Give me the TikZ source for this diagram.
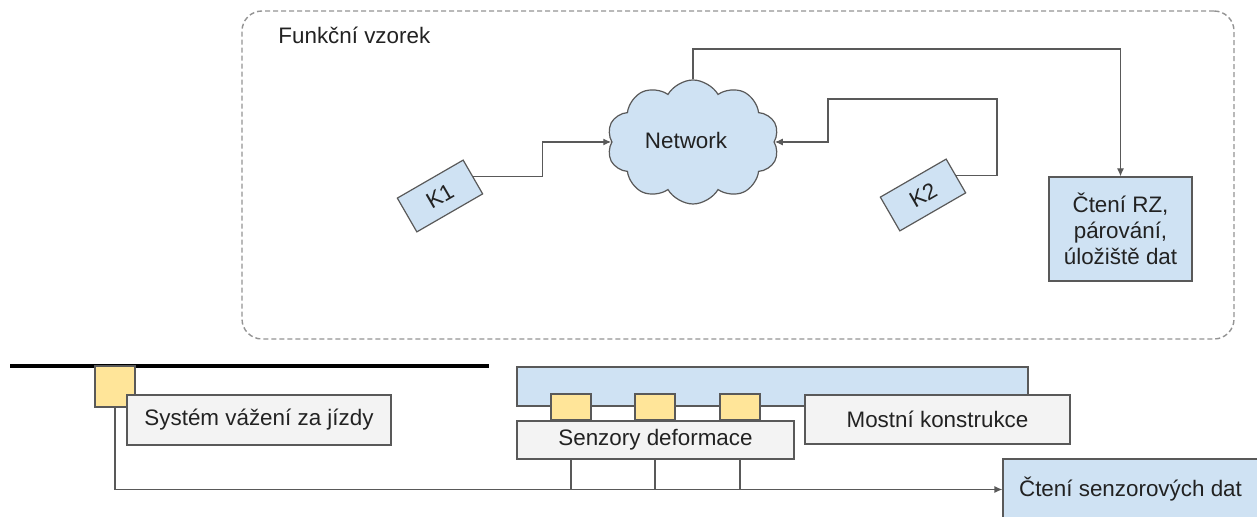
\documentclass[tikz,border=0pt]{standalone}
\usepackage{fontspec}
\setmainfont{Liberation Sans}
\usetikzlibrary{positioning,arrows.meta,calc,shapes.symbols}
\definecolor{boxblue}{HTML}{CFE2F3}
\definecolor{boxgray}{HTML}{F3F3F3}
\definecolor{boxyellow}{HTML}{FFE599}
\definecolor{edge}{HTML}{595959}
\definecolor{txt}{HTML}{222222}

\begin{document}
\begin{tikzpicture}[
    x=0.5pt, y=-0.5pt,
    font=\fontsize{11.2}{13}\selectfont,
    text=txt,
    >={Latex[length=4pt,width=3.5pt]},
    box/.style     ={draw=edge, line width=0.6pt, inner sep=0pt, align=center},
    bluebox/.style ={box, fill=boxblue},
    graybox/.style ={box, fill=boxgray},
    sensbox/.style ={box, fill=boxyellow, minimum width=20pt, minimum height=13pt},
    tagbox/.style  ={bluebox, rotate=30, minimum width=38pt, minimum height=19.5pt},
    arr/.style     ={->, draw=edge, line width=0.6pt},
    wire/.style    ={draw=edge, line width=0.6pt},
]
\useasboundingbox (0,0) rectangle (1257,517);
\clip (0,0) rectangle (1257,517);

% =========================================================
% Top: functional sample (dashed frame)
% =========================================================
\node[draw=gray!85, line width=0.7pt, dash pattern=on 2.5pt off 1.5pt,
      rounded corners=10pt, minimum width=496pt, minimum height=164pt]
      (frame) at (738,175) {};
\node[anchor=west, inner sep=0pt] (title) at (278,35) {Funkční vzorek};

\node[cloud, cloud puffs=10, cloud puff arc=120, aspect=1.35,
      draw=edge, line width=0.6pt, fill=boxblue, inner sep=0pt,
      minimum width=86pt, minimum height=62pt] (net) at (693,142) {};
\node[inner sep=0pt] (nettxt) at (686,140) {Network};

\node[tagbox] (k1) at (440,196) {K1};
\node[tagbox] (k2) at (923,195) {K2};

\node[bluebox, minimum width=71.5pt, minimum height=52pt] (rz) at (1120.5,229)
    {Čtení RZ,\\párování,\\úložiště dat};

\coordinate (bus) at (0,49);

% Top arrows
\draw[arr] (k1.east) -| ($(k1.east)!0.5!(net.west)$) |- (net.west);
\draw[arr] (k2.east) -| (997,99) -| (828,141) |- (net.east);
\draw[arr] (net.north) -- (net.north |- bus) -| (rz.north);

% =========================================================
% Bottom left: weigh-in-motion
% =========================================================
\draw[line width=2pt, black] (10,366) -- (489,366);
\node[box, fill=boxyellow, minimum width=20pt, minimum height=20.5pt]
    (wimsen) at (115,386.5) {};
\node[graybox, minimum width=132pt, minimum height=25pt] (wim) at (259,420)
    {Systém vážení za jízdy};

% =========================================================
% Bottom right: bridge with strain sensors
% =========================================================
\node[bluebox, minimum width=255.5pt, minimum height=19.5pt] (bridge) at (772.5,386.5) {};
\node[sensbox] (s1) at (571,407) {};
\node[sensbox] (s2) at (655,407) {};
\node[sensbox] (s3) at (740,407) {};
\node[graybox, minimum width=138.5pt, minimum height=19pt] (sens) at (655.5,440)
    {Senzory deformace};
\node[graybox, minimum width=132.5pt, minimum height=24.5pt] (most) at (937.5,419.5)
    {Mostní konstrukce};

\node[bluebox, minimum width=127.5pt, minimum height=30.5pt] (data) at (1130.5,489.5)
    {Čtení senzorových dat};

% Bottom wiring
\draw[arr] (wimsen.south) |- (data.west);
\foreach \s in {s1,s2,s3}
    \draw[wire] (sens.south -| \s) -- (\s |- data.west);

\end{tikzpicture}
\end{document}
